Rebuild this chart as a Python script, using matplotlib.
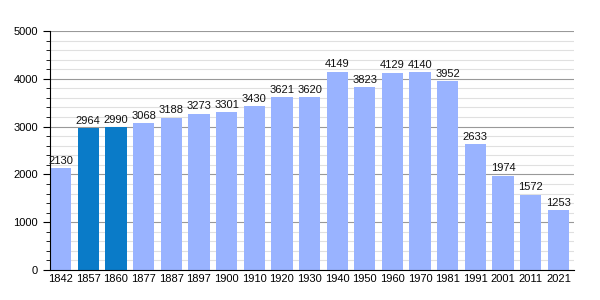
import numpy as np
import matplotlib.pyplot as plt
from matplotlib.ticker import MultipleLocator

plt.rcParams["font.family"] = ["Liberation Sans", "DejaVu Sans"]

years = ["1842", "1857", "1860", "1877", "1887", "1897", "1900", "1910", "1920", "1930",
         "1940", "1950", "1960", "1970", "1981", "1991", "2001", "2011", "2021"]
population = [2130, 2964, 2990, 3068, 3188, 3273, 3301, 3430, 3621, 3620,
              4149, 3823, 4129, 4140, 3952, 2633, 1974, 1572, 1253]
highlighted = ["1857", "1860"]

light = "#99b3ff"
dark = "#0a7bc8"

fig = plt.figure(figsize=(6, 3), dpi=100)
ax = fig.add_axes([50 / 600, 30 / 300, 524 / 600, 239 / 300])

x = np.arange(len(years))
colors = [dark if y in highlighted else light for y in years]
width = 0.77
ax.bar(x, population, width=width, align="edge", color=colors, zorder=2)

for xi, v in zip(x, population):
    ax.text(xi + width / 2, v + 50, str(v), ha="center", va="bottom", fontsize=8,
            color="#111111", zorder=3)

ax.set_xlim(0, len(years) - 0.05)
ax.set_ylim(0, 5000)
ax.set_xticks(x + width / 2)
ax.set_xticklabels(years)
ax.yaxis.set_major_locator(MultipleLocator(1000))
ax.yaxis.set_minor_locator(MultipleLocator(200))
ax.grid(axis="y", which="major", color="#999999", lw=0.8, zorder=0)
ax.grid(axis="y", which="minor", color="#e0e0e0", lw=0.8, zorder=0)

for s in ["top", "right"]:
    ax.spines[s].set_visible(False)
ax.tick_params(axis="x", length=0, labelsize=8, pad=3)
ax.tick_params(axis="y", which="major", length=5, labelsize=8)
ax.tick_params(axis="y", which="minor", length=3)

fig.savefig("out.png", dpi=100)
